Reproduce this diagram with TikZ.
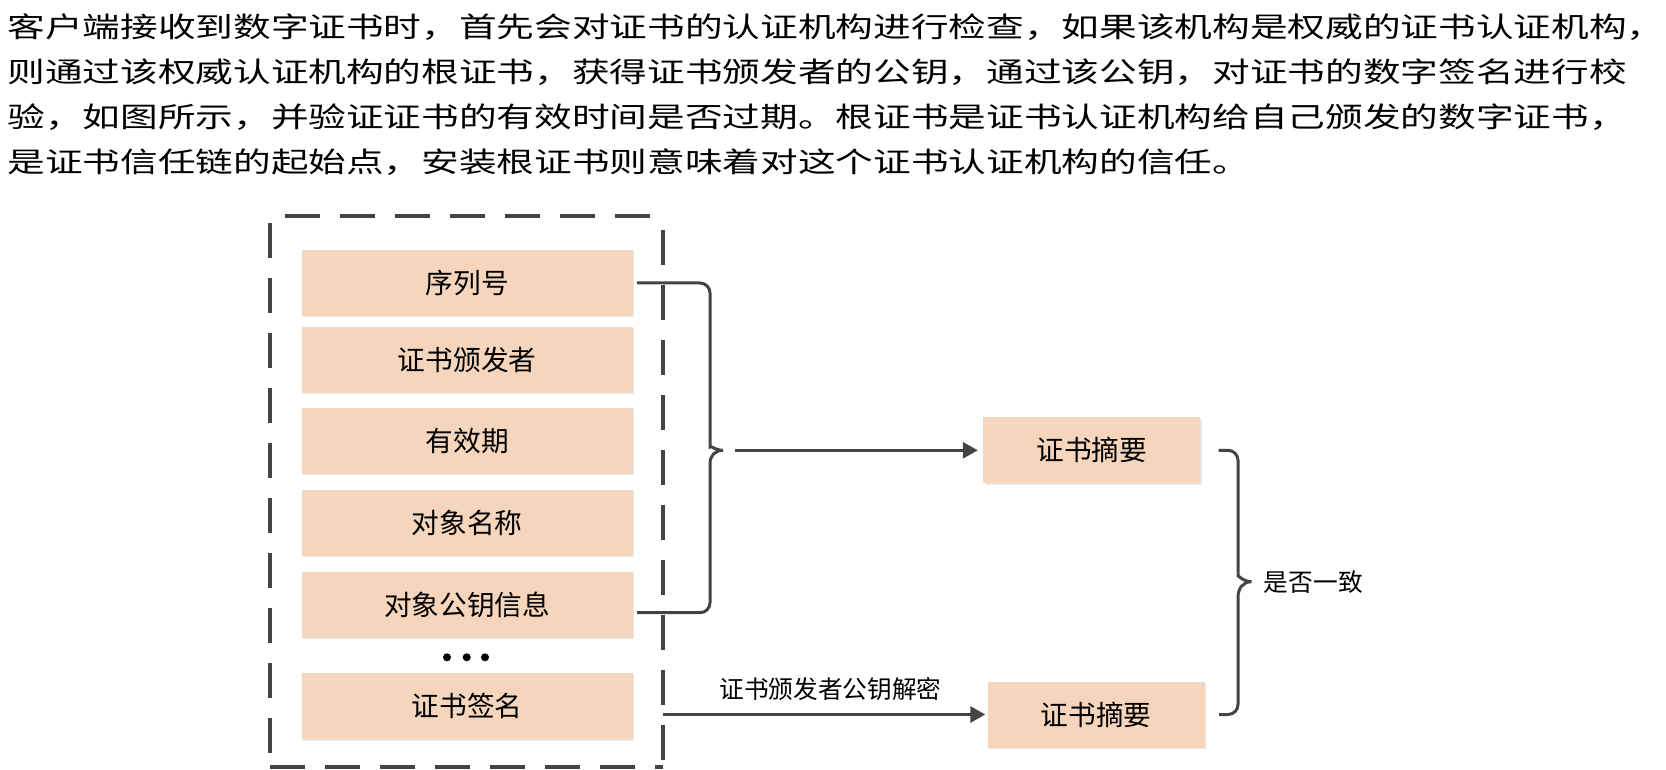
\documentclass[tikz,border=0pt]{standalone}
\usepackage{fontspec}
\setmainfont{Noto Sans CJK SC}
\newfontfamily\bodyfont[FakeStretch=1.345]{Noto Sans CJK SC}
\usetikzlibrary{arrows.meta,shadows}

\definecolor{peach}{RGB}{245,213,188}
\definecolor{linegray}{RGB}{68,68,68}

\tikzset{
  field/.style={fill=peach, minimum width=165.5pt, minimum height=33pt, inner sep=0pt,
    drop shadow={shadow xshift=0.7pt, shadow yshift=-0.7pt, opacity=0.18},
    font=\fontsize{13.85pt}{16pt}\selectfont},
  digest/.style={field, minimum width=108.5pt},
  conn/.style={draw=linegray, line width=1.5pt},
  arr/.style={conn, -{Triangle[length=7.5pt,width=8pt]}},
  framedash/.style={draw=linegray, line width=2pt, dash pattern=on 17.5pt off 10pt},
  lbl/.style={inner sep=0pt, font=\fontsize{12.35pt}{14pt}\selectfont},
}

\begin{document}
\begin{tikzpicture}[x=0.5pt, y=-0.5pt]
  \useasboundingbox (0,0) rectangle (1666,770);
  \node[anchor=north west, inner sep=0pt, align=left,
        font=\bodyfont\fontsize{14pt}{22.5pt}\selectfont] (intro) at (7,13)
    {客户端接收到数字证书时，首先会对证书的认证机构进行检查，如果该机构是权威的证书认证机构，\\
     则通过该权威认证机构的根证书，获得证书颁发者的公钥，通过该公钥，对证书的数字签名进行校\\
     验，如图所示，并验证证书的有效时间是否过期。根证书是证书认证机构给自己颁发的数字证书，\\
     是证书信任链的起始点，安装根证书则意味着对这个证书认证机构的信任。};

  % certificate
  \node[minimum width=195.8pt, minimum height=275.35pt, inner sep=0pt] (frame) at (466.5,491.35) {};
  \draw[framedash, dash phase=20.35pt] (frame.north west) -- (frame.north east);
  \draw[framedash, dash phase=24pt] (frame.north west) -- (frame.south west);
  \draw[framedash, dash phase=20.5pt] (frame.north east) -- (frame.south east);
  \draw[framedash] (frame.south west) -- (frame.south east);
  \node[field] (serial) at (467.2,283) {序列号};
  \node[field] (issuer) at (467.2,360) {证书颁发者};
  \node[field] (validity) at (467.2,441) {有效期};
  \node[field] (subject) at (467.2,522.8) {对象名称};
  \node[field] (pubkey) at (467.2,604.5) {对象公钥信息};
  \node[field] (sign) at (467.2,706.3) {证书签名};
  \foreach \x in {447,466.7,485}
    \fill (\x,657.3) circle (2pt);

  % digests
  \node[digest] (hash1) at (1091.7,450.3) {证书摘要};
  \node[digest] (hash2) at (1096.2,714.5) {证书摘要};

  \coordinate (tipL) at (723,450.3);
  \coordinate (tipR) at (1251.5,581.7);
  \draw[conn] ([xshift=2pt]serial.east) {[rounded corners=5pt] -- (710,283) -- (710,437)}
    .. controls (710,445) and (715,450.3) .. (tipL)
    .. controls (715,450.3) and (710,455.6) .. (710,463.6)
    {[rounded corners=5pt] -- (710,612.7) -- ([xshift=2pt]pubkey.east |- 0,612.7)};
  \draw[arr] ([xshift=6pt]tipL) -- ([xshift=-2.5pt]hash1.west);
  \draw[arr] (frame.east |- hash2.west) -- node[lbl, pos=0.52, above=6pt] (decrypt) {证书颁发者公钥解密}
    ([xshift=-1pt]hash2.west);

  \draw[conn] ([xshift=9pt]hash1.east) {[rounded corners=5pt] -- (1238,450.3) -- (1238,566)}
    .. controls (1238,575) and (1243,581.7) .. (tipR)
    .. controls (1243,581.7) and (1238,588.4) .. (1238,597.4)
    {[rounded corners=5pt] -- (1238,714.5) -- ([xshift=7pt]hash2.east)};
  \node[lbl, anchor=west] (same) at ([xshift=6pt]tipR) {是否一致};
\end{tikzpicture}
\end{document}
